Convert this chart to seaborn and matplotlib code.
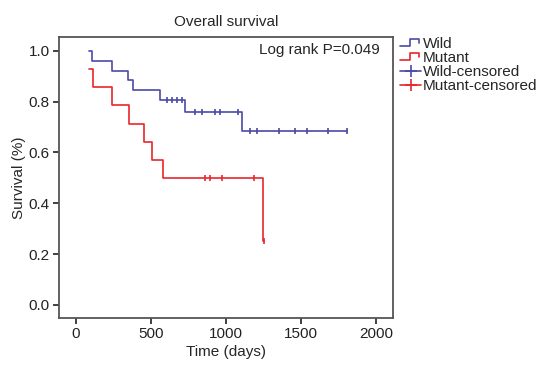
import numpy as np
import pandas as pd
import seaborn as sns
import matplotlib
matplotlib.use("Agg")
import matplotlib.pyplot as plt
from matplotlib.lines import Line2D
from matplotlib.legend_handler import HandlerBase

# ---- data ----
wild_times = [87, 110, 238, 349, 382, 560, 727, 1104, 1804]
wild_surv = [1.0, 0.961, 0.922, 0.884, 0.845, 0.806, 0.760, 0.684, 0.684]
wild_censor = [604, 638, 671, 704, 793, 838, 927, 960, 1082, 1160, 1209,
               1353, 1460, 1542, 1678, 1804]

mutant_times = [87, 116, 238, 355, 453, 504, 582, 1244, 1255]
mutant_surv = [0.929, 0.857, 0.786, 0.714, 0.643, 0.571, 0.5, 0.25, 0.25]
mutant_censor = [860, 893, 975, 1187, 1255]

x_ticks = [0, 500, 1000, 1500, 2000]
y_ticks = [0.0, 0.2, 0.4, 0.6, 0.8, 1.0]

BLUE = "#4a4aa6"
RED = "#e8272b"
FS = 11

sns.set_style("ticks")
plt.rcParams["font.family"] = ["Liberation Sans", "DejaVu Sans"]

def step_value(times, surv, t):
    idx = np.searchsorted(times, t, side="right") - 1
    return surv[max(idx, 0)]

curves = pd.concat([
    pd.DataFrame({"time": wild_times, "surv": wild_surv, "group": "Wild"}),
    pd.DataFrame({"time": mutant_times, "surv": mutant_surv, "group": "Mutant"}),
])
cens = pd.concat([
    pd.DataFrame({"time": wild_censor,
                  "surv": [step_value(wild_times, wild_surv, t) for t in wild_censor],
                  "group": "Wild"}),
    pd.DataFrame({"time": mutant_censor,
                  "surv": [step_value(mutant_times, mutant_surv, t) for t in mutant_censor],
                  "group": "Mutant"}),
])

fig = plt.figure(figsize=(5.39, 3.65), dpi=100)
ax = fig.add_axes([0.1095, 0.129, 0.62, 0.770])

palette = {"Wild": BLUE, "Mutant": RED}
sns.lineplot(data=curves, x="time", y="surv", hue="group", palette=palette,
             drawstyle="steps-post", linewidth=1.2, ax=ax, legend=False,
             estimator=None, sort=True)
for g, sub in cens.groupby("group"):
    ax.plot(sub["time"], sub["surv"], linestyle="none", marker="|",
            markersize=5, markeredgewidth=1.2, color=palette[g])

ax.set_xlim(-113, 2113)
ax.set_ylim(-0.051, 1.055)
ax.set_xticks(x_ticks)
ax.set_yticks(y_ticks)
ax.set_yticklabels([f"{v:.1f}" for v in y_ticks])
ax.tick_params(labelsize=FS, length=4, width=1.3, color="#333333",
               labelcolor="#222222", pad=2.5)
for s in ax.spines.values():
    s.set_visible(True)
    s.set_linewidth(1.3)
    s.set_color("#555555")
ax.set_xlabel("Time (days)", fontsize=FS, labelpad=3)
ax.set_ylabel("Survival (%)", fontsize=FS, labelpad=2)
ax.set_title("Overall survival", fontsize=FS, pad=8)
ax.text(0.961, 0.978, "Log rank P=0.049", transform=ax.transAxes,
        ha="right", va="top", fontsize=FS)


class StepHandler(HandlerBase):
    def create_artists(self, legend, orig_handle, xdescent, ydescent,
                       width, height, fontsize, trans):
        c = orig_handle.get_color()
        w, h = width, height
        xs = [0, 0.45 * w, 0.45 * w, 0.9 * w, 0.9 * w]
        ys = [0.2 * h, 0.2 * h, 0.8 * h, 0.8 * h, 0.45 * h]
        ln = Line2D(np.array(xs) - xdescent, np.array(ys) - ydescent,
                    color=c, linewidth=1.2, transform=trans)
        return [ln]


handles = [
    Line2D([], [], color=BLUE),
    Line2D([], [], color=RED),
    Line2D([0, 1], [0, 0], color=BLUE, marker="+", markersize=9,
           markeredgewidth=1.2, linewidth=1.2),
    Line2D([0, 1], [0, 0], color=RED, marker="+", markersize=9,
           markeredgewidth=1.2, linewidth=1.2),
]
labels = ["Wild", "Mutant", "Wild-censored", "Mutant-censored"]
ax.legend(handles, labels, handler_map={handles[0]: StepHandler(),
                                         handles[1]: StepHandler()},
          loc="upper left", bbox_to_anchor=(1.02, 1.0), frameon=False,
          fontsize=FS, handlelength=1.4, handletextpad=0.1,
          labelspacing=0.0, borderaxespad=0, borderpad=0.0,
          numpoints=1)

fig.savefig("out.png", dpi=100)
